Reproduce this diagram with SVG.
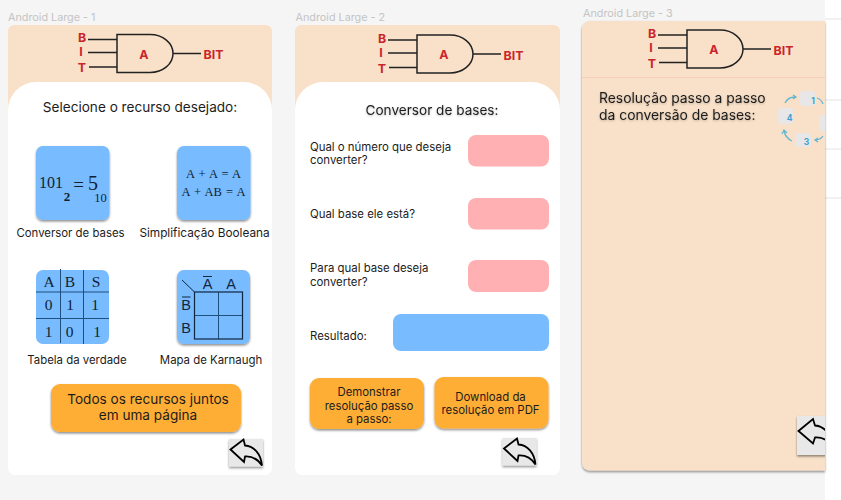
<svg xmlns="http://www.w3.org/2000/svg" width="841" height="500" viewBox="0 0 841 500">
<defs>
<style>
text{font-family:"Inter","Liberation Sans",Arial,sans-serif;fill:#1c1c1c}
.cap{font-size:11.4px;text-anchor:middle}
.head{font-size:13.6px;text-anchor:middle}
.q{font-size:11.4px}
.frame{font-size:10.8px;fill:#c4c4c4}
.gl{font-size:12.4px;font-weight:700;fill:#c9252d;text-anchor:middle}
.wire{stroke:#222;stroke-width:1.5;fill:none}
.sf{font-family:"Liberation Serif","DejaVu Serif",serif;text-anchor:middle;fill:#101f33}
.gr{stroke:#1f4f7d;stroke-width:1;fill:none}
.kl{font-family:"Liberation Sans",Arial,sans-serif;font-size:14.5px;text-anchor:middle;fill:#12263f}
.tile{fill:#78bbff}
.or{fill:#ffae36}
.pk{fill:#ffb0b3}
.loop{stroke:#67b6cf;stroke-width:1.3;fill:none}
.ln{font-size:8.5px;font-weight:700;fill:#3f9fd0;text-anchor:middle}
</style>
<filter id="sh" x="-20%" y="-20%" width="140%" height="150%"><feDropShadow dx="0" dy="1.5" stdDeviation="1" flood-color="#000" flood-opacity=".45"/></filter>
<filter id="ts" x="-10%" y="-30%" width="120%" height="170%"><feDropShadow dx="0" dy="1" stdDeviation="1" flood-color="#000" flood-opacity=".25"/></filter>
<clipPath id="f3c"><rect x="582" y="0" width="243" height="500"/></clipPath>
<g id="gate">
<text class="gl" x="82" y="42">B</text><text class="gl" x="81" y="56">I</text><text class="gl" x="82" y="72">T</text>
<path class="wire" d="M88 39.500H117M88 52.500H117M89 67H117M173 53.500H201"/>
<path class="wire" d="M117 34.500H150C163 34.500 173 43 173 53.500C173 64 163 72.500 150 72.500H117Z"/>
<text class="gl" x="144" y="58.500">A</text><text class="gl" x="213.500" y="59">BIT</text>
</g>
<g id="back">
<rect x="229" y="439" width="34" height="27.500" fill="#e8e8e8" filter="url(#sh)"/>
<path d="M230.500 449.500L243.500 439.500L245 445.500C254 446 261 454 262 465.500C257 458 252 456 245 456.500L244 462Z" fill="none" stroke="#000" stroke-width="1.800" stroke-linejoin="miter"/>
</g>
</defs>
<rect width="841" height="500" fill="#f5f5f5"/>
<rect x="825" y="0" width="16" height="500" fill="#fff"/>
<path d="M825 19H841M825 100H841M825 149H841M825 198H841" stroke="#e4e4e4" stroke-width="1"/>

<g id="frame-1">
<text class="frame" x="8" y="21">Android Large - 1</text>
<path d="M8 31a6 6 0 0 1 6-6H266a6 6 0 0 1 6 6V110H8Z" fill="#f9e1c9"/>
<path d="M8 110a28 28 0 0 1 28-28H244a28 28 0 0 1 28 28V468a7 7 0 0 1-7 7H15a7 7 0 0 1-7-7Z" fill="#fff"/>
<use href="#gate"/>
<text class="head" x="140" y="112">Selecione o recurso desejado:</text>
</g>
<g id="tile-conversor">
<rect class="tile" x="36" y="146" width="73.500" height="74" rx="7" filter="url(#sh)"/>
<text class="sf" x="51" y="188" font-size="16">101</text><text class="sf" x="67" y="201" font-size="13" font-weight="700">2</text>
<text class="sf" x="78.500" y="191" font-size="19">=</text><text class="sf" x="93" y="190" font-size="20">5</text><text class="sf" x="100.500" y="202" font-size="12.500">10</text>
<text class="cap" x="70.500" y="237">Conversor de bases</text>
</g>
<g id="tile-simplificacao">
<rect class="tile" x="177" y="146" width="73.500" height="74" rx="7" filter="url(#sh)"/>
<text class="sf" x="213.500" y="178" font-size="12.500" word-spacing="1">A + A = A</text>
<text class="sf" x="213.500" y="196" font-size="12.500" word-spacing="1">A + AB = A</text>
<text class="cap" x="204.500" y="237" style="font-size:11.800px">Simplificação Booleana</text>
</g>
<g id="tile-tabela">
<rect class="tile" x="36" y="270" width="73" height="74" rx="7"/>
<path class="gr" d="M60.500 269V343M83.500 270V344M36 292H109M36 318.500H109"/>
<g font-size="15.500"><text class="sf" x="49" y="287">A</text><text class="sf" x="70" y="287">B</text><text class="sf" x="96" y="287">S</text>
<text class="sf" x="48.500" y="310">0</text><text class="sf" x="70" y="310">1</text><text class="sf" x="95" y="310">1</text>
<text class="sf" x="48.500" y="337">1</text><text class="sf" x="69.500" y="337">0</text><text class="sf" x="97" y="337">1</text></g>
<text class="cap" x="77" y="364">Tabela da verdade</text>
</g>
<g id="tile-karnaugh">
<rect class="tile" x="177" y="270" width="73" height="74" rx="7" filter="url(#sh)"/>
<path d="M182 280L194.500 292" stroke="#12263f" fill="none"/>
<path d="M218.500 292V339M194.500 315.500H242.500" stroke="#1f4f7d" fill="none"/>
<rect x="194.500" y="292" width="48" height="47" fill="none" stroke="#12263f" stroke-width="1.200"/>
<text class="kl" x="207.500" y="289">A</text><text class="kl" x="231" y="289">A</text>
<text class="kl" x="186" y="310">B</text><text class="kl" x="186" y="333">B</text>
<path d="M203 276.500H212M182 297H190.500" stroke="#12263f" stroke-width="1.200" fill="none"/>
<text class="cap" x="211" y="364">Mapa de Karnaugh</text>
</g>
<g id="btn-todos">
<rect class="or" x="51" y="384" width="190" height="48" rx="9" filter="url(#sh)"/>
<text class="head" x="148" y="404">Todos os recursos juntos</text>
<text class="head" x="148" y="420">em uma página</text>
</g>
<g id="back-1"><use href="#back"/></g>

<g id="frame-2">
<text class="frame" x="295.500" y="21">Android Large - 2</text>
<path d="M295 31a6 6 0 0 1 6-6H554a6 6 0 0 1 6 6V110H295Z" fill="#f9e1c9"/>
<path d="M295 110a28 28 0 0 1 28-28H532a28 28 0 0 1 28 28V468a7 7 0 0 1-7 7H302a7 7 0 0 1-7-7Z" fill="#fff"/>
<use href="#gate" x="300" y="0.500"/>
<text class="head" x="432" y="115" filter="url(#ts)">Conversor de bases:</text>
</g>
<g id="q-numero">
<text class="q" x="310" y="151">Qual o número que deseja</text><text class="q" x="310" y="164">converter?</text>
<rect class="pk" x="468" y="135" width="81" height="31.500" rx="8"/>
</g>
<g id="q-base">
<text class="q" x="310" y="218">Qual base ele está?</text>
<rect class="pk" x="468" y="198" width="81" height="31.500" rx="8"/>
</g>
<g id="q-para">
<text class="q" x="310" y="272">Para qual base deseja</text><text class="q" x="310" y="286">converter?</text>
<rect class="pk" x="468" y="260" width="81" height="32" rx="8"/>
</g>
<g id="q-resultado">
<text class="q" x="310" y="340">Resultado:</text>
<rect class="tile" x="393" y="314" width="156" height="37" rx="8"/>
</g>
<g id="btn-demonstrar">
<rect class="or" x="310" y="378" width="114" height="51" rx="9" filter="url(#sh)"/>
<text class="cap" x="369" y="396">Demonstrar</text><text class="cap" x="369" y="409.500">resolução passo</text><text class="cap" x="369" y="423">a passo:</text>
</g>
<g id="btn-download">
<rect class="or" x="434.500" y="377" width="114" height="51.500" rx="9" filter="url(#sh)"/>
<text class="cap" x="490.500" y="401">Download da</text><text class="cap" x="490.500" y="414">resolução em PDF</text>
</g>
<g id="back-2"><use href="#back" x="273.500" y="-1"/></g>

<g id="frame-3">
<text class="frame" x="583" y="17">Android Large - 3</text>
<path d="M582 29a8 8 0 0 1 8-8H825V470.500H590a8 8 0 0 1-8-8Z" fill="#f9e1c9" filter="url(#sh)"/>
<rect x="582" y="77" width="243" height="1" fill="#f8cdb9"/>
<use href="#gate" x="570" y="-4.500"/>
<g filter="url(#ts)"><text x="599" y="103" font-size="13.900">Resolução passo a passo</text><text x="599" y="120" font-size="13.900">da conversão de bases:</text></g>
</g>
<g id="loop" clip-path="url(#f3c)">
<g fill="#e8e6e6"><rect x="800" y="91" width="15" height="15" rx="3"/><rect x="778" y="108" width="15" height="16" rx="3"/><rect x="819" y="115" width="12" height="16" rx="3"/><rect x="795" y="133" width="16" height="14" rx="4"/></g>
<path class="loop" d="M785 103C787 99 790 97 795 97M793 95L796 97L793 99M817 98C820 99 822 101 823 104M784 131C785 136 788 139 792 141M782 134L784 130L787 133M823 136C821 139 818 140 815 140M818 138L815 140L818 142"/>
<text class="ln" x="813" y="104">1</text><text class="ln" x="789.500" y="121">4</text><text class="ln" x="806.500" y="145">3</text>
</g>
<g id="back-3" clip-path="url(#f3c)"><rect x="797" y="416" width="34" height="39" fill="#e8e8e8" filter="url(#sh)"/>
<path d="M798.500 431L813 419L815 425.500C824 426 831 434 832 446C827 439 822 437 815 437.500L813 443.500Z" fill="none" stroke="#000" stroke-width="1.800"/></g>
</svg>
